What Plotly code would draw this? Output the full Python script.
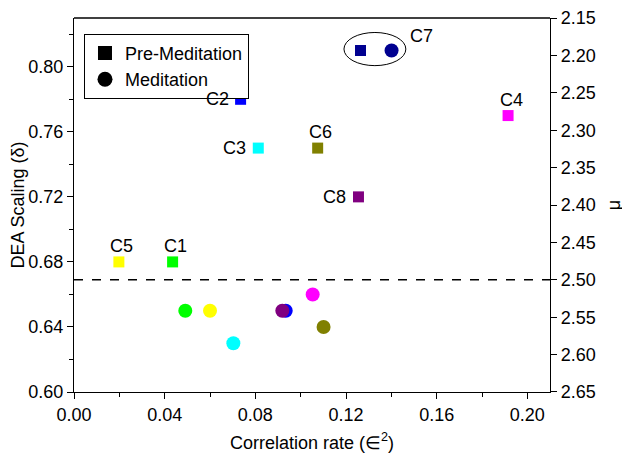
import plotly.graph_objects as go

# subjects C1..C8
subjects = ['C1', 'C2', 'C3', 'C4', 'C5', 'C6', 'C7', 'C8']
colors = ['#00ff00', '#0000ff', '#00ffff', '#ff00ff', '#ffff00', '#808000', '#000090', '#800080']

pre_rate = [0.0435, 0.0735, 0.0813, 0.1915, 0.0198, 0.1075, 0.1264, 0.1255]
pre_delta = [0.68, 0.78, 0.75, 0.77, 0.68, 0.75, 0.81, 0.72]

med_rate = [0.0491, 0.0934, 0.0703, 0.1053, 0.0600, 0.1101, 0.1401, 0.0919]
med_delta = [0.65, 0.65, 0.63, 0.66, 0.65, 0.64, 0.81, 0.65]

# label placement relative to the pre-meditation square
label_pos = ['above', 'left', 'left', 'above', 'above', 'above', 'c7', 'left']

mu_threshold = 2.50
mu_ticks = [2.15, 2.20, 2.25, 2.30, 2.35, 2.40, 2.45, 2.50, 2.55, 2.60, 2.65]

TXT = '#000000'
FONT = 'Liberation Sans, Arial, sans-serif'

fig = go.Figure()

# threshold line (on the mu axis)
fig.add_trace(go.Scatter(
    x=[0, 0.21], y=[mu_threshold, mu_threshold], yaxis='y2', mode='lines',
    line=dict(color='black', width=1.6, dash='dash'), showlegend=False, hoverinfo='skip'))

# meditation circles, ordered so purple sits over blue like the original
order = [0, 4, 2, 1, 7, 3, 5, 6]
fig.add_trace(go.Scatter(
    x=[med_rate[i] for i in order], y=[med_delta[i] for i in order], mode='markers',
    marker=dict(symbol='circle', size=14, color=[colors[i] for i in order]),
    showlegend=False, text=[subjects[i] for i in order],
    hovertemplate='%{text}<br>ε²: %{x}<br>δ: %{y}<extra>Meditation</extra>'))

fig.add_trace(go.Scatter(
    x=pre_rate, y=pre_delta, mode='markers',
    marker=dict(symbol='square', size=11, color=colors),
    showlegend=False, text=subjects,
    hovertemplate='%{text}<br>ε²: %{x}<br>δ: %{y}<extra>Pre-Meditation</extra>'))

# legend-only entries in black
fig.add_trace(go.Scatter(x=[None], y=[None], mode='markers', name='Pre-Meditation',
                         marker=dict(symbol='square', size=14, color='black')))
fig.add_trace(go.Scatter(x=[None], y=[None], mode='markers', name='Meditation',
                         marker=dict(symbol='circle', size=15, color='black')))

annotations = []
for s, x, y, pos in zip(subjects, pre_rate, pre_delta, label_pos):
    a = dict(x=x, y=y, xref='x', yref='y', text=s, showarrow=False,
             font=dict(size=18, color=TXT, family=FONT))
    if pos == 'left':
        a.update(xanchor='right', yanchor='middle', xshift=-10)
    elif pos == 'above':
        a.update(xanchor='center', yanchor='bottom', yshift=4, xshift=3)
    else:
        a.update(x=med_rate[6], y=med_delta[6], xanchor='left', yanchor='bottom', xshift=16, yshift=3)
    annotations.append(a)

# ellipse around the C7 pair
i7 = subjects.index('C7')
shapes = [dict(type='circle', xref='x', yref='y',
               x0=pre_rate[i7] - 0.0073, x1=med_rate[i7] + 0.0063,
               y0=med_delta[i7] - 0.0093, y1=med_delta[i7] + 0.0111,
               line=dict(color='black', width=1))]

axis_common = dict(showline=True, linecolor='black', linewidth=1.3, ticks='outside',
                   tickcolor='black', ticklen=6, tickwidth=1.2, showgrid=False, zeroline=False,
                   automargin=False, ticklabeloverflow='allow',
                   tickfont=dict(size=18, color=TXT, family=FONT), tickformat='.2f')

# page body adds an 8px offset, so the figure is sized to fit the window
fig.update_layout(
    width=622, height=456,
    paper_bgcolor='white', plot_bgcolor='white',
    font=dict(family=FONT, color=TXT, size=18),
    margin=dict(l=66, r=80, t=10, b=72),
    annotations=annotations, shapes=shapes,
    xaxis=dict(**axis_common, range=[0, 0.21], dtick=0.04, tick0=0,
               minor=dict(dtick=0.02, tick0=0, ticklen=4, tickcolor='black', ticks='outside'),
               title=dict(text='Correlation rate (∈<sup>2</sup>)', font=dict(size=18), standoff=12)),
    yaxis=dict(**axis_common, range=[0.60, 0.83], dtick=0.04, tick0=0.60,
               minor=dict(dtick=0.02, tick0=0.60, ticklen=4, tickcolor='black', ticks='outside'),
               title=dict(text='DEA Scaling (δ)', font=dict(size=18), standoff=4)),
    yaxis2=dict(**axis_common, overlaying='y', side='right', range=[2.65001, 2.14999],
                tickmode='array', tickvals=mu_ticks,
                title=dict(text='μ', font=dict(size=18), standoff=12)),
    legend=dict(x=0.021, y=0.958, xanchor='left', yanchor='top', bordercolor='black',
                borderwidth=1, bgcolor='white', font=dict(size=18, color=TXT, family=FONT),
                itemwidth=30, tracegroupgap=0),
)

# top frame line
fig.add_shape(type='line', xref='paper', yref='paper', x0=0, x1=1, y0=1, y1=1,
              line=dict(color='black', width=1.3))

fig.write_html('out.html')
